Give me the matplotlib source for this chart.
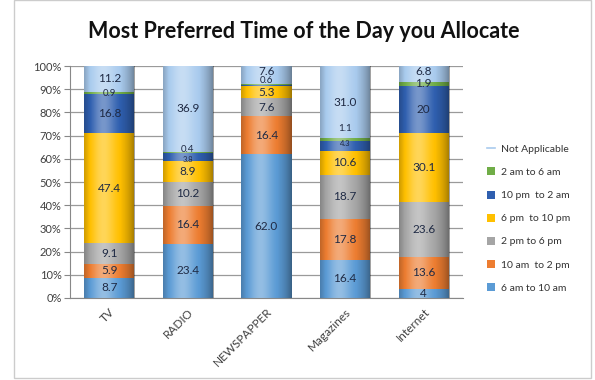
import numpy as np
import matplotlib
matplotlib.use('Agg')
import matplotlib.pyplot as plt
from matplotlib.patches import Patch, Rectangle
from matplotlib.lines import Line2D

plt.rcParams['font.family'] = ['Lato', 'DejaVu Sans']

# ---- data (bottom to top) ----
media = ['TV', 'RADIO', 'NEWSPAPPER', 'Magazines', 'Internet']
slots = ['6 am to 10 am', '10 am  to 2 pm', '2 pm to 6 pm', '6 pm  to 10 pm',
         '10 pm  to 2 am', '2 am to 6 am', 'Not Applicable']
am6_10 = [8.7, 23.4, 62.0, 16.4, 4]
am10_2 = [5.9, 16.4, 16.4, 17.8, 13.6]
pm2_6 = [9.1, 10.2, 7.6, 18.7, 23.6]
pm6_10 = [47.4, 8.9, 5.3, 10.6, 30.1]
pm10_2 = [16.8, 3.8, 0.5, 4.3, 20]
am2_6 = [0.9, 0.4, 0.6, 1.1, 1.9]
not_app = [11.2, 36.9, 7.6, 31.0, 6.8]
series = [am6_10, am10_2, pm2_6, pm6_10, pm10_2, am2_6, not_app]
# text shown on each segment (None = no label)
labels = [['8.7', '23.4', '62.0', '16.4', '4'],
          ['5.9', '16.4', '16.4', '17.8', '13.6'],
          ['9.1', '10.2', '7.6', '18.7', '23.6'],
          ['47.4', '8.9', '5.3', '10.6', '30.1'],
          ['16.8', '3.8', None, '4.3', '20'],
          ['0.9', '0.4', '0.6', '1.1', '1.9'],
          ['11.2', '36.9', '7.6', '31.0', '6.8']]
colors = ['#5b9bd5', '#ed7d31', '#a5a5a5', '#ffc000', '#2f5faf', '#70ad47', '#a9cbee']
# small nudges (in %) so crowded labels don't sit on top of each other
nudge = {(4, 1): -1.2, (5, 1): 1.3, (4, 3): 1.0, (5, 3): 4.5,
         (5, 2): 1.5, (6, 2): 1.5, (6, 4): 1.0}

fig = plt.figure(figsize=(5.95, 3.8), dpi=100)
ax = fig.add_axes([0.1176, 0.2158, 0.6605, 0.6105])

x = np.arange(len(media))
w = 0.64
bottom = np.zeros(len(media))
for k, (vals, lab, c) in enumerate(zip(series, labels, colors)):
    vals = np.array(vals, dtype=float)
    ax.bar(x, vals, w, bottom=bottom, color=c, edgecolor='none', zorder=2)
    for i in range(len(media)):
        if lab[i] is None:
            continue
        fs = 8.5
        if vals[i] < 1.5:
            fs = 7
        if lab[i] in ('3.8', '4.3'):
            fs = 5.5
        ax.text(x[i], bottom[i] + vals[i] / 2 + nudge.get((k, i), 0), lab[i],
                ha='center', va='center', fontsize=fs, color='#1f2a44', zorder=4)
    bottom += vals

# cylinder shading overlay
t = np.linspace(0, 1, 100)
shade = 0.35 * np.exp(-((t - 0.38) / 0.22) ** 2) - 0.38 * (np.abs(t - 0.45) / 0.55) ** 3
rgba = np.zeros((1, len(t), 4))
rgba[0, :, :3] = np.where(shade[:, None] > 0, 1.0, 0.0)
rgba[0, :, 3] = np.clip(np.abs(shade), 0, 1)
for i in range(len(media)):
    ax.imshow(rgba, extent=(x[i] - w / 2, x[i] + w / 2, 0, bottom[i]),
              aspect='auto', interpolation='bilinear', zorder=3)

ax.set_xlim(-0.5, len(media) - 0.5)
ax.set_ylim(0, 100)
ax.set_yticks(np.arange(0, 101, 10))
ax.set_yticklabels([f'{v}%' for v in range(0, 101, 10)], fontsize=8, color='#404040')
ax.set_xticks(x)
ax.set_xticklabels(media, rotation=45, ha='right', rotation_mode='anchor',
                   fontsize=8.5, color='#404040')
ax.tick_params(axis='x', length=0, pad=6)
ax.tick_params(axis='y', length=4, color='#888888', width=0.8, pad=2)
ax.grid(axis='y', color='#9a9a9a', linewidth=0.9, zorder=1)
ax.set_axisbelow(True)
for s in ['top', 'right']:
    ax.spines[s].set_visible(False)
ax.spines['left'].set_color('#888888')
ax.spines['bottom'].set_color('#888888')

fig.text(0.511, 0.918, 'Most Preferred Time of the Day you Allocate',
         ha='center', va='center', fontsize=15.5, fontweight='bold', color='#111111')

handles = [Line2D([0], [0], color=colors[6], lw=1.2)]
for c in reversed(colors[:6]):
    handles.append(Patch(facecolor=c, edgecolor='none'))
leg = fig.legend(handles, list(reversed(slots)), loc='upper left',
                 bbox_to_anchor=(0.803, 0.645), frameon=False, fontsize=7.5,
                 handlelength=0.8, handleheight=0.8, handletextpad=0.5,
                 labelspacing=1.3, labelcolor='#333333')

# faint outer frame
fig.patches.append(Rectangle((14 / 595, 2 / 380), 577 / 595, 378 / 380,
                             transform=fig.transFigure, fill=False,
                             edgecolor='#cccccc', linewidth=1))

fig.savefig('out.png', dpi=100)
